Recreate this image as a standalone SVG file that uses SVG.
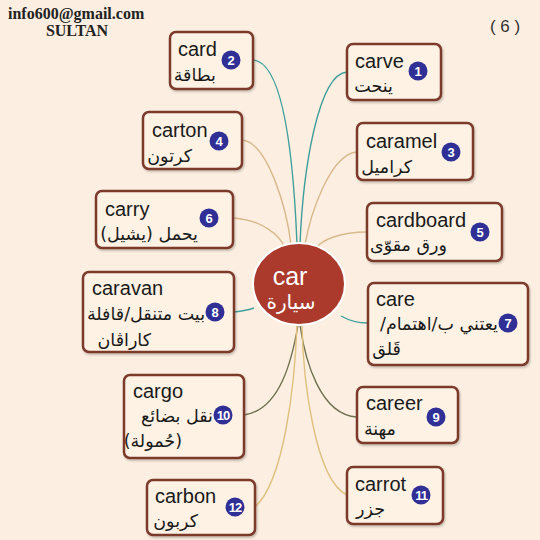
<svg xmlns="http://www.w3.org/2000/svg" width="540" height="540" viewBox="0 0 540 540">
<defs>
<filter id="sh" x="-10%" y="-10%" width="130%" height="130%"><feDropShadow dx="1" dy="1.5" stdDeviation="1.2" flood-color="#000" flood-opacity="0.25"/></filter>
</defs>
<style>
.box{fill:#fdf2e4;stroke:#7b3a2c;stroke-width:2.5;filter:url(#sh)}
.en{font-family:"Liberation Sans",Arial,sans-serif;font-size:20px;fill:#1a1a1a}
.ar{font-family:"DejaVu Sans",sans-serif;font-size:17.5px;fill:#1a1a1a;direction:rtl;unicode-bidi:embed;text-anchor:start}
.bd{fill:#2f2f95}
.bn{font-family:"Liberation Sans",Arial,sans-serif;font-size:13px;font-weight:bold;fill:#fff;text-anchor:middle}
.c{fill:none;stroke-width:1.4}
.teal{stroke:#3e9f9c}
.tan{stroke:#d8b98c}
.olive{stroke:#6f7050}
.yel{stroke:#e0c07e}
.hdr{font-family:"Liberation Serif","Times New Roman",serif;font-weight:bold;font-size:16px;fill:#222}
</style>
<rect width="540" height="540" fill="#fcefe1"/>
<text class="hdr" x="8" y="19">info600@gmail.com</text>
<text class="hdr" x="77" y="36" text-anchor="middle">SULTAN</text>
<text x="505" y="32" text-anchor="middle" font-family="Liberation Sans,Arial,sans-serif" font-size="17" fill="#333">( 6 )</text>
<g id="connectors">
<path class="c teal" d="M253,60 C285,62 294,170 297,244"/>
<path class="c teal" d="M347,72 C318,74 303,170 300,244"/>
<path class="c tan" d="M242,140 C268,142 287,210 291,245"/>
<path class="c tan" d="M357,152 C330,154 310,215 305,245"/>
<path class="c tan" d="M233,218 C262,220 280,235 285,248"/>
<path class="c tan" d="M367,232 C340,232 322,240 316,248"/>
<path class="c teal" d="M234,312 C242,311 248,310 254,308"/>
<path class="c teal" d="M368,323 C355,323 348,320 341,316"/>
<path class="c olive" d="M244,415 C280,410 292,360 298,325"/>
<path class="c olive" d="M357,417 C320,415 305,360 300,325"/>
<path class="c yel" d="M255,507 C285,480 295,380 297,325"/>
<path class="c yel" d="M347,495 C315,480 303,380 302,325"/>
</g>
<g id="center">
<ellipse cx="299" cy="284" rx="46" ry="41" fill="#ab3a2d" stroke="#fff" stroke-width="2"/>
<text x="290" y="285" text-anchor="middle" font-family="Liberation Sans,Arial,sans-serif" font-size="25" fill="#fff">car</text>
<text x="291" y="309" text-anchor="middle" font-family="DejaVu Sans,sans-serif" font-size="20" fill="#fff">سيارة</text>
</g>
<g id="n1"><rect class="box" x="347" y="44" width="94" height="56" rx="6"/><text class="en" x="355" y="68">carve</text><text class="ar" x="393" y="92">ينحت</text><circle class="bd" cx="418" cy="71" r="9.5"/><text class="bn" x="418" y="76">1</text></g>
<g id="n2"><rect class="box" x="170" y="32" width="83" height="57" rx="6"/><text class="en" x="178" y="56">card</text><text class="ar" x="216" y="81">بطاقة</text><circle class="bd" cx="231" cy="60" r="9.5"/><text class="bn" x="231" y="65">2</text></g>
<g id="n3"><rect class="box" x="357" y="123" width="116" height="57" rx="6"/><text class="en" x="366" y="148">caramel</text><text class="ar" x="412" y="173">كراميل</text><circle class="bd" cx="451" cy="152" r="9.5"/><text class="bn" x="451" y="157">3</text></g>
<g id="n4"><rect class="box" x="143" y="112" width="99" height="57" rx="6"/><text class="en" x="152" y="137">carton</text><text class="ar" x="192" y="162">كرتون</text><circle class="bd" cx="219" cy="141" r="9.5"/><text class="bn" x="219" y="146">4</text></g>
<g id="n5"><rect class="box" x="367" y="203" width="135" height="58" rx="6"/><text class="en" x="376" y="227">cardboard</text><text class="ar" x="447" y="251">ورق مقوّى</text><circle class="bd" cx="480" cy="232" r="9.5"/><text class="bn" x="480" y="237">5</text></g>
<g id="n6"><rect class="box" x="96" y="191" width="137" height="57" rx="6"/><text class="en" x="105" y="216">carry</text><text class="ar" x="198" y="240">يحمل (يشيل)</text><circle class="bd" cx="209" cy="218" r="9.5"/><text class="bn" x="209" y="223">6</text></g>
<g id="n7"><rect class="box" x="368" y="283" width="160" height="82" rx="6"/><text class="en" x="376" y="306">care</text><text class="ar" x="498" y="330">يعتني ب/اهتمام/</text><text class="ar" x="401" y="355">قَلق</text><circle class="bd" cx="508" cy="323" r="9.5"/><text class="bn" x="508" y="328">7</text></g>
<g id="n8"><rect class="box" x="83" y="272" width="151" height="80" rx="6"/><text class="en" x="92" y="295">caravan</text><text class="ar" x="205" y="320" font-size="16.5">بيت متنقل/قافلة</text><text class="ar" x="151" y="346">كاراڤان</text><circle class="bd" cx="215" cy="312" r="9.5"/><text class="bn" x="215" y="317">8</text></g>
<g id="n9"><rect class="box" x="357" y="387" width="101" height="56" rx="6"/><text class="en" x="366" y="410">career</text><text class="ar" x="396" y="435">مهنة</text><circle class="bd" cx="436" cy="417" r="9.5"/><text class="bn" x="436" y="422">9</text></g>
<g id="n10"><rect class="box" x="124" y="375" width="120" height="83" rx="6"/><text class="en" x="133" y="398">cargo</text><text class="ar" x="213" y="422">نقل بضائع</text><text class="ar" x="182" y="447">(حُمولة)</text><circle class="bd" cx="223" cy="415" r="9.5"/><text class="bn" x="223" y="420" letter-spacing="-1">10</text></g>
<g id="n11"><rect class="box" x="347" y="467" width="96" height="57" rx="6"/><text class="en" x="355" y="491">carrot</text><text class="ar" x="385" y="515">جزر</text><circle class="bd" cx="421" cy="495" r="9.5"/><text class="bn" x="421" y="500" letter-spacing="-1">11</text></g>
<g id="n12"><rect class="box" x="147" y="480" width="108" height="55" rx="6"/><text class="en" x="155" y="503">carbon</text><text class="ar" x="198" y="527">كربون</text><circle class="bd" cx="235" cy="507" r="9.5"/><text class="bn" x="235" y="512" letter-spacing="-1">12</text></g>
</svg>
